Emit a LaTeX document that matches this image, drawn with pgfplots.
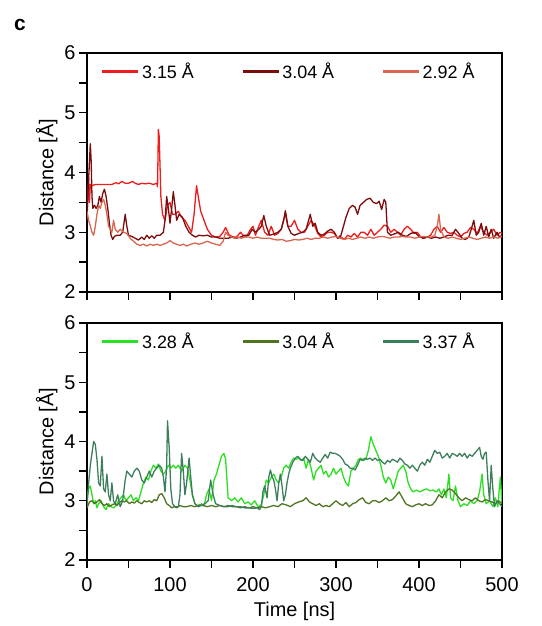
\documentclass[border=0pt]{standalone}
\usepackage{fontspec}
\setmainfont{Liberation Sans}
\usepackage{pgfplots}
\pgfplotsset{compat=1.18}

\definecolor{redA}{HTML}{EE1C1C}
\definecolor{redB}{HTML}{7B0C0C}
\definecolor{redC}{HTML}{D9674F}
\definecolor{greenA}{HTML}{2BE021}
\definecolor{greenB}{HTML}{4F7420}
\definecolor{greenC}{HTML}{3D7F5C}

\pgfplotsset{
  distplot/.style={
    width=415bp, height=239bp, scale only axis,
    xmin=0, xmax=500, ymin=2, ymax=6,
    xtick={0,100,...,500}, minor xtick={50,150,...,450},
    ytick={2,3,4,5,6}, minor ytick={2.5,3.5,4.5,5.5},
    tick align=outside, tick pos=left,
    major tick length=8bp, minor tick length=8bp,
    every tick/.style={black, line width=1.3bp},
    axis line style={line width=1.3bp},
    tick label style={font=\fontsize{20}{22}\selectfont},
    xticklabel style={yshift=-6bp},
    label style={font=\fontsize{20}{22}\selectfont},
    xlabel shift=4bp,
    /pgf/number format/assume math mode=true,
    ylabel={Distance [Å]},
    legend style={at={(0.025,0.975)}, anchor=north west, draw=none, fill=none,
      legend columns=3, font=\fontsize{18}{20}\selectfont,
      /tikz/every even column/.append style={column sep=45bp}},
    legend image code/.code={\draw[line width=3.5bp] (0bp,0bp) -- (36bp,0bp);},
    every axis plot/.append style={line width=1.3bp, line join=round},
  }
}

\begin{document}
\begin{tikzpicture}
\useasboundingbox (0,0) rectangle (542bp,-626bp);
\node[font=\bfseries\fontsize{21}{22}\selectfont] at (20bp,-25bp) {c};

% top panel
\begin{axis}[distplot, at={(87bp,-292bp)}, anchor=south west, xticklabels={}]
\addplot[redA] coordinates {
(0,3.2)(1,3.6)(2,3.9)(3,3.5)(4,3.8)(6,3.78)(10,3.8)(15,3.8)(20,3.8)(25,3.8)(30,3.8)(35,3.83)(38,3.81)(42,3.85)(46,3.82)(50,3.82)(55,3.85)(58,3.82)(62,3.8)(66,3.82)(70,3.81)(75,3.82)(80,3.8)(84,3.82)(85,3.76)(86,4.72)(87,4.6)(89,3.6)(91,3.3)(94,3.2)(97,3.45)(100,3.5)(103,3.3)(106,3.3)(110,3.35)(114,3.25)(118,3.2)(122,3.1)(126,3.0)(129,3.3)(132,3.78)(134,3.6)(137,3.35)(141,3.2)(145,3.05)(150,2.95)(155,2.92)(160,2.93)(164,3.0)(167,3.08)(171,2.96)(176,2.92)(180,2.92)(185,3.0)(188,2.95)(192,2.92)(197,3.05)(200,3.1)(203,2.95)(207,3.1)(210,3.2)(214,3.0)(218,2.95)(222,3.1)(226,2.95)(230,2.98)(234,3.05)(239,3.32)(242,3.1)(246,3.1)(250,3.2)(254,3.05)(258,3.0)(262,3.0)(266,3.1)(270,3.2)(274,3.12)(278,2.98)(282,2.92)(286,2.95)(290,3.0)(294,3.0)(298,2.98)(302,2.9)(306,2.92)(310,2.88)(314,2.95)(318,2.92)(322,2.98)(326,2.92)(330,3.0)(334,3.0)(338,2.95)(342,3.05)(346,2.95)(350,3.0)(354,3.05)(358,3.12)(362,3.1)(366,3.0)(370,3.05)(374,3.0)(378,2.95)(382,3.05)(386,3.1)(390,3.05)(394,2.98)(398,3.0)(402,2.92)(406,2.9)(410,2.92)(414,2.95)(418,3.05)(422,3.1)(426,3.0)(430,3.08)(434,3.0)(438,2.98)(442,3.0)(446,2.95)(450,2.92)(454,2.98)(458,3.0)(462,3.08)(466,3.05)(470,2.98)(474,3.1)(478,3.0)(482,2.95)(486,3.0)(490,3.05)(494,2.95)(498,3.0)(500,2.98)
};
\addplot[redB] coordinates {
(0,3.3)(1,3.6)(2,3.9)(3,4.2)(4,4.48)(5,4.2)(6,3.6)(7,3.4)(9,3.45)(11,3.4)(13,3.45)(15,3.6)(17,3.5)(19,3.65)(21,3.72)(23,3.6)(25,3.4)(27,3.15)(29,2.95)(31,2.88)(33,2.93)(36,2.95)(40,2.95)(43,3.0)(46,3.3)(48,3.1)(50,2.95)(54,2.93)(58,2.9)(62,2.87)(66,2.92)(69,2.88)(72,2.95)(75,2.9)(78,2.94)(81,2.9)(84,2.95)(88,2.95)(92,3.0)(94,3.2)(96,3.6)(98,3.4)(100,3.15)(102,3.4)(104,3.68)(106,3.45)(108,3.2)(111,3.3)(115,3.25)(119,3.1)(123,3.0)(127,2.95)(131,2.92)(135,2.95)(140,2.94)(145,2.95)(150,2.92)(155,2.92)(160,2.9)(165,2.9)(170,2.9)(175,2.92)(180,2.9)(185,2.92)(190,2.95)(195,2.95)(199,3.05)(203,3.0)(207,3.05)(210,3.1)(213,3.28)(216,3.1)(220,2.95)(225,2.97)(230,3.0)(234,3.05)(237,3.2)(239,3.36)(242,3.1)(246,2.98)(250,2.95)(255,2.98)(260,3.0)(264,3.05)(267,3.2)(269,3.3)(272,3.1)(275,3.15)(278,3.0)(282,2.95)(286,2.97)(290,3.02)(294,3.05)(298,3.0)(302,2.9)(306,2.95)(309,3.1)(312,3.25)(316,3.4)(320,3.45)(323,3.42)(326,3.3)(329,3.45)(333,3.5)(337,3.55)(341,3.57)(345,3.5)(349,3.48)(352,3.52)(355,3.38)(358,3.55)(360,3.5)(362,3.0)(366,2.95)(370,2.97)(375,3.0)(380,2.95)(385,2.93)(390,2.98)(395,3.0)(400,2.93)(405,2.9)(410,2.92)(415,2.9)(420,2.92)(425,2.9)(430,2.92)(435,2.95)(440,2.95)(444,3.05)(448,2.98)(452,2.9)(456,2.88)(460,2.92)(463,3.05)(466,3.2)(469,2.95)(472,3.0)(475,3.15)(478,2.95)(481,3.1)(484,2.92)(487,3.05)(490,2.9)(494,3.0)(497,2.92)(500,2.95)
};
\addplot[redC] coordinates {
(0,3.35)(2,3.2)(4,3.1)(6,3.0)(8,2.95)(10,3.1)(12,3.3)(14,3.45)(16,3.4)(18,3.5)(20,3.55)(22,3.45)(24,3.3)(26,3.1)(28,3.05)(30,3.0)(32,3.2)(34,3.05)(37,3.0)(40,3.05)(44,3.0)(48,2.98)(52,2.9)(56,2.85)(60,2.8)(64,2.78)(68,2.8)(72,2.77)(76,2.8)(80,2.78)(84,2.8)(88,2.78)(92,2.8)(96,2.82)(100,2.86)(104,2.82)(108,2.8)(112,2.78)(116,2.8)(120,2.77)(125,2.8)(130,2.82)(135,2.8)(140,2.82)(145,2.85)(150,2.82)(155,2.8)(160,2.78)(164,2.85)(167,3.0)(170,2.95)(174,2.92)(178,2.9)(182,2.92)(186,2.9)(190,2.92)(195,2.92)(200,2.9)(205,2.92)(210,2.9)(215,2.9)(220,2.9)(225,2.88)(230,2.87)(235,2.88)(240,2.85)(245,2.86)(250,2.88)(255,2.87)(260,2.88)(265,2.9)(270,2.88)(275,2.9)(280,2.9)(285,2.92)(290,2.9)(295,2.92)(300,2.93)(305,2.9)(310,2.88)(315,2.9)(320,2.88)(325,2.9)(330,2.92)(335,2.9)(340,2.92)(345,2.9)(350,2.92)(355,2.93)(360,2.92)(365,2.9)(370,2.92)(375,2.92)(380,2.93)(385,2.92)(390,2.92)(395,2.9)(400,2.92)(405,2.93)(410,2.92)(415,2.92)(419,2.95)(422,3.1)(424,3.3)(426,3.05)(430,2.92)(435,2.9)(440,2.92)(445,2.9)(450,2.88)(455,2.9)(460,2.92)(465,2.9)(470,2.88)(475,2.9)(480,2.92)(485,2.9)(490,2.92)(495,2.9)(500,2.93)
};
\legend{3.15 Å, 3.04 Å, 2.92 Å}
\end{axis}

% bottom panel
\begin{axis}[distplot, at={(87bp,-560bp)}, anchor=south west, height=237bp, xlabel={Time [ns]}]
\addplot[greenA] coordinates {
(0,3.05)(2,3.2)(4,3.25)(6,3.1)(8,2.95)(10,3.0)(12,2.88)(14,2.95)(17,3.0)(20,2.9)(23,2.85)(26,2.95)(29,2.9)(32,2.88)(35,2.92)(38,3.0)(41,3.05)(44,3.1)(47,3.0)(50,3.05)(53,3.1)(56,3.0)(59,3.05)(62,3.0)(65,3.15)(68,3.3)(71,3.4)(74,3.35)(77,3.5)(80,3.6)(83,3.55)(86,3.62)(89,3.5)(92,3.45)(95,3.5)(98,3.6)(101,3.55)(104,3.6)(107,3.55)(110,3.6)(114,3.5)(118,3.6)(121,3.55)(124,3.35)(127,3.1)(130,2.95)(134,2.9)(138,2.95)(141,2.92)(144,3.1)(147,3.2)(150,3.0)(153,3.35)(156,3.45)(159,3.6)(162,3.75)(165,3.8)(167,3.7)(170,3.05)(174,3.0)(178,3.05)(182,2.98)(186,3.05)(190,2.95)(194,2.98)(198,2.93)(202,3.0)(206,2.9)(210,2.93)(213,3.1)(216,3.35)(219,3.3)(222,3.4)(225,3.45)(228,3.35)(231,3.3)(234,3.4)(237,3.55)(240,3.6)(243,3.55)(246,3.65)(249,3.72)(252,3.7)(255,3.72)(258,3.68)(261,3.72)(264,3.55)(267,3.7)(270,3.55)(273,3.35)(276,3.5)(279,3.55)(282,3.6)(285,3.45)(288,3.5)(291,3.4)(294,3.45)(297,3.55)(300,3.45)(303,3.5)(306,3.55)(309,3.4)(312,3.3)(315,3.25)(318,3.5)(321,3.55)(324,3.6)(327,3.7)(330,3.72)(333,3.68)(336,3.7)(339,3.85)(342,4.08)(345,3.95)(348,3.85)(351,3.75)(354,3.6)(357,3.4)(360,3.3)(363,3.4)(366,3.35)(369,3.2)(372,3.35)(375,3.5)(378,3.55)(381,3.6)(384,3.5)(387,3.3)(390,3.2)(393,3.15)(397,3.18)(401,3.15)(405,3.18)(409,3.2)(413,3.17)(417,3.18)(421,3.15)(424,3.2)(427,3.1)(430,3.2)(433,3.05)(436,3.45)(438,3.05)(441,3.0)(444,3.25)(447,3.0)(450,2.9)(454,2.95)(458,2.92)(462,3.0)(466,2.95)(470,3.0)(473,3.15)(476,3.45)(478,3.1)(481,2.95)(485,3.0)(489,2.9)(492,3.05)(495,2.9)(498,3.4)(500,2.95)
};
\addplot[greenB] coordinates {
(0,2.88)(3,2.98)(6,3.0)(9,2.95)(12,2.98)(15,3.02)(18,2.95)(21,2.92)(24,2.95)(27,2.9)(30,2.93)(33,2.95)(36,2.92)(39,2.97)(42,3.0)(45,2.98)(48,3.0)(51,2.95)(54,2.98)(57,2.96)(60,3.0)(63,2.97)(66,2.95)(69,3.0)(72,2.98)(75,3.0)(78,2.97)(81,3.02)(84,3.0)(87,3.1)(90,3.12)(93,3.05)(96,2.95)(99,2.92)(102,2.88)(105,2.9)(108,2.88)(112,2.92)(116,2.9)(120,2.9)(125,2.92)(130,2.9)(135,2.93)(140,2.92)(145,2.9)(150,2.92)(155,2.9)(160,2.92)(165,2.9)(170,2.92)(175,2.9)(180,2.9)(185,2.88)(190,2.9)(195,2.88)(200,2.9)(205,2.88)(210,2.9)(215,2.88)(220,2.9)(225,2.92)(230,2.9)(235,2.95)(240,2.93)(245,2.9)(250,2.95)(255,2.98)(260,3.0)(264,3.05)(268,2.98)(272,2.95)(276,2.92)(280,2.95)(284,2.9)(288,2.92)(292,2.9)(296,2.95)(300,3.0)(304,2.95)(308,2.92)(312,2.97)(316,2.9)(320,2.95)(324,2.97)(328,3.02)(332,3.05)(336,2.97)(340,2.95)(344,3.0)(348,3.0)(352,2.97)(356,3.0)(360,3.05)(364,3.0)(368,3.02)(372,3.08)(376,3.15)(380,3.05)(384,2.95)(388,2.92)(392,2.9)(396,2.93)(400,2.95)(404,2.92)(408,2.95)(412,2.92)(416,2.93)(420,3.0)(424,3.1)(428,3.05)(432,3.15)(436,3.2)(440,3.18)(444,3.12)(448,3.05)(452,3.0)(456,3.05)(460,3.02)(464,3.0)(468,3.05)(472,3.0)(476,2.98)(480,3.02)(484,3.0)(488,2.98)(492,2.95)(496,3.0)(500,2.95)
};
\addplot[greenC] coordinates {
(0,2.9)(2,3.3)(4,3.6)(6,3.8)(8,4.0)(10,3.95)(12,3.7)(14,3.3)(16,3.25)(18,3.75)(20,3.2)(22,3.15)(24,3.45)(26,3.1)(28,3.0)(30,3.3)(32,3.0)(34,2.95)(37,3.1)(40,2.9)(43,3.0)(46,3.35)(48,3.5)(51,3.45)(54,3.4)(57,3.5)(60,3.55)(63,3.5)(66,3.35)(69,3.3)(72,3.4)(75,3.5)(78,3.4)(81,3.5)(84,3.55)(87,3.6)(90,3.55)(92,3.4)(94,3.15)(96,3.6)(97,4.35)(99,3.9)(101,3.2)(103,2.95)(106,2.9)(110,2.9)(112,3.1)(114,3.8)(116,3.5)(118,3.1)(120,3.3)(123,3.72)(125,3.4)(127,3.1)(130,2.95)(134,2.9)(138,2.92)(142,2.95)(146,3.0)(149,3.35)(152,3.1)(155,2.95)(160,2.92)(165,2.9)(170,2.9)(175,2.92)(180,2.9)(185,2.9)(190,2.88)(195,2.88)(200,2.87)(205,2.88)(208,2.85)(210,2.9)(212,3.15)(214,3.25)(217,3.05)(219,3.4)(221,3.52)(223,3.4)(225,3.35)(227,3.2)(229,3.0)(231,3.3)(233,3.45)(235,3.25)(237,3.0)(239,3.1)(241,3.3)(243,3.45)(245,3.55)(248,3.65)(251,3.72)(254,3.75)(257,3.7)(260,3.68)(263,3.75)(266,3.7)(269,3.65)(272,3.8)(275,3.72)(278,3.68)(281,3.65)(284,3.72)(287,3.78)(290,3.72)(293,3.82)(296,3.8)(299,3.8)(302,3.78)(305,3.75)(308,3.7)(311,3.62)(314,3.6)(317,3.55)(320,3.55)(323,3.52)(326,3.6)(329,3.7)(332,3.68)(335,3.72)(338,3.7)(341,3.72)(344,3.68)(347,3.72)(350,3.68)(353,3.7)(356,3.65)(359,3.62)(362,3.68)(365,3.65)(368,3.7)(371,3.68)(374,3.65)(377,3.72)(380,3.68)(383,3.62)(386,3.6)(389,3.55)(392,3.6)(395,3.55)(398,3.5)(401,3.6)(404,3.65)(407,3.6)(410,3.7)(413,3.65)(416,3.75)(419,3.85)(422,3.8)(425,3.82)(428,3.72)(431,3.75)(434,3.8)(437,3.72)(440,3.8)(443,3.78)(446,3.75)(449,3.8)(452,3.75)(455,3.8)(458,3.72)(461,3.78)(464,3.75)(467,3.8)(470,3.85)(473,3.9)(475,3.75)(477,3.7)(479,3.8)(481,3.82)(483,3.35)(485,3.0)(487,3.6)(489,3.2)(491,2.9)(494,3.0)(497,2.95)(500,2.9)
};
\legend{3.28 Å, 3.04 Å, 3.37 Å}
\end{axis}
\end{tikzpicture}
\end{document}
